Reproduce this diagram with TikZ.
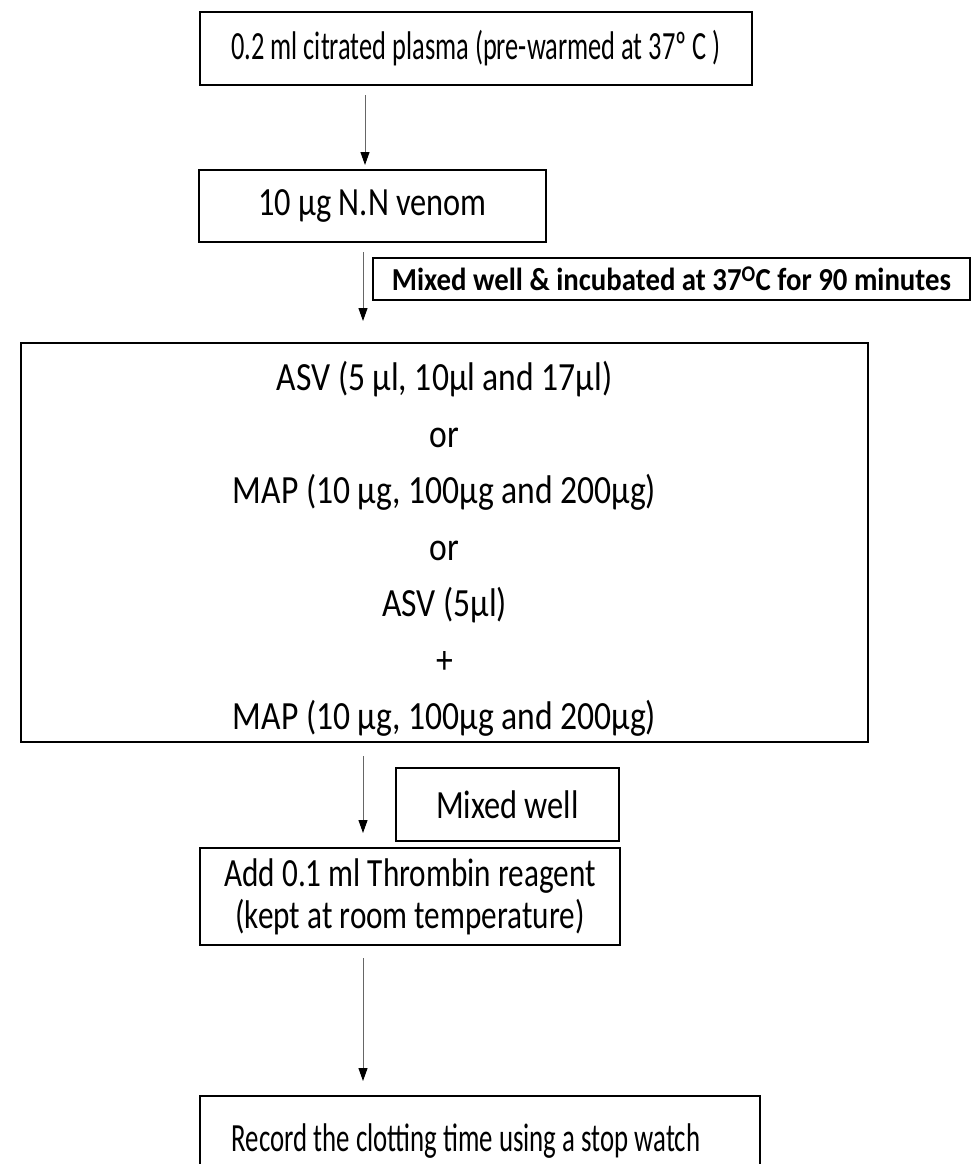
\documentclass[tikz,border=0pt]{standalone}
\usepackage{fontspec}
\setmainfont{Carlito}
\newfontfamily\fOne[FakeStretch=0.66]{Carlito}
\newfontfamily\fTwo[FakeStretch=0.81]{Carlito}
\newfontfamily\fThree[FakeStretch=0.84]{Carlito}
\newfontfamily\fFour[FakeStretch=0.78]{Carlito}
\newfontfamily\fFive[FakeStretch=0.67]{Carlito}
\newfontfamily\fLbl[FakeStretch=0.90]{Carlito}
\usetikzlibrary{arrows.meta}
\begin{document}
\begin{tikzpicture}[x=1pt,y=-1pt,
  box/.style={draw=black, line width=1.6pt, inner sep=0pt, align=center},
  lbl/.style={draw=black, line width=1.6pt, inner sep=0pt, align=center,
    font=\fLbl\bfseries\fontsize{32}{36}\selectfont},
  arr/.style={draw=black!60, line width=1pt,
    -{Triangle[width=9pt,length=13pt,fill=black,color=black]}}]
\useasboundingbox (0,0) rectangle (972,1164);
\clip (0,0) rectangle (972,1164);
\node[box, minimum width=552pt, minimum height=73pt,
  font=\fOne\fontsize{40}{46}\selectfont] (b1) at (476,48.5)
  {0.2 ml citrated plasma (pre-warmed at 37º C )};
\node[box, minimum width=347pt, minimum height=72pt,
  font=\fTwo\fontsize{40}{46}\selectfont] (b2) at (372.5,206)
  {10 µg N.N venom};
\node[lbl, minimum width=597pt, minimum height=42pt] (l1) at (671.5,279)
  {Mixed well \& incubated at 37\textsuperscript{O}C for 90 minutes};
\node[box, minimum width=847pt, minimum height=399pt] (b3) at (444.5,542.5) {};
\node[align=center, inner sep=0pt,
  font=\fThree\fontsize{40}{56.5}\selectfont] (t3) at (444.5,549)
  {ASV (5 µl, 10µl and 17µl)\\or\\MAP (10 µg, 100µg and 200µg)\\or\\ASV (5µl)\\+\\MAP (10 µg, 100µg and 200µg)};
\node[box, minimum width=223pt, minimum height=73pt,
  font=\fTwo\fontsize{40}{46}\selectfont] (mw) at (507.5,804.5)
  {Mixed well};
\node[box, minimum width=420pt, minimum height=97pt,
  font=\fFour\fontsize{40}{42}\selectfont] (b4) at (410,896.5)
  {Add 0.1 ml Thrombin reagent\\(kept at room temperature)};
\node[box, minimum width=560pt, minimum height=100pt, anchor=north] (b5) at (480,1095)
  {};
\node[font=\fFive\fontsize{40}{46}\selectfont] (t5) at (466,1141)
  {Record the clotting time using a stop watch};
\coordinate (a1s) at (365,95);  \coordinate (a1e) at (365,165);
\coordinate (a2s) at (363,252); \coordinate (a2e) at (363,321);
\coordinate (a3s) at (363,756); \coordinate (a3e) at (363,833);
\coordinate (a4s) at (363,958); \coordinate (a4e) at (363,1081);
\draw[arr] (a1s) -- (a1e);
\draw[arr] (a2s) -- (a2e);
\draw[arr] (a3s) -- (a3e);
\draw[arr] (a4s) -- (a4e);
\end{tikzpicture}
\end{document}
